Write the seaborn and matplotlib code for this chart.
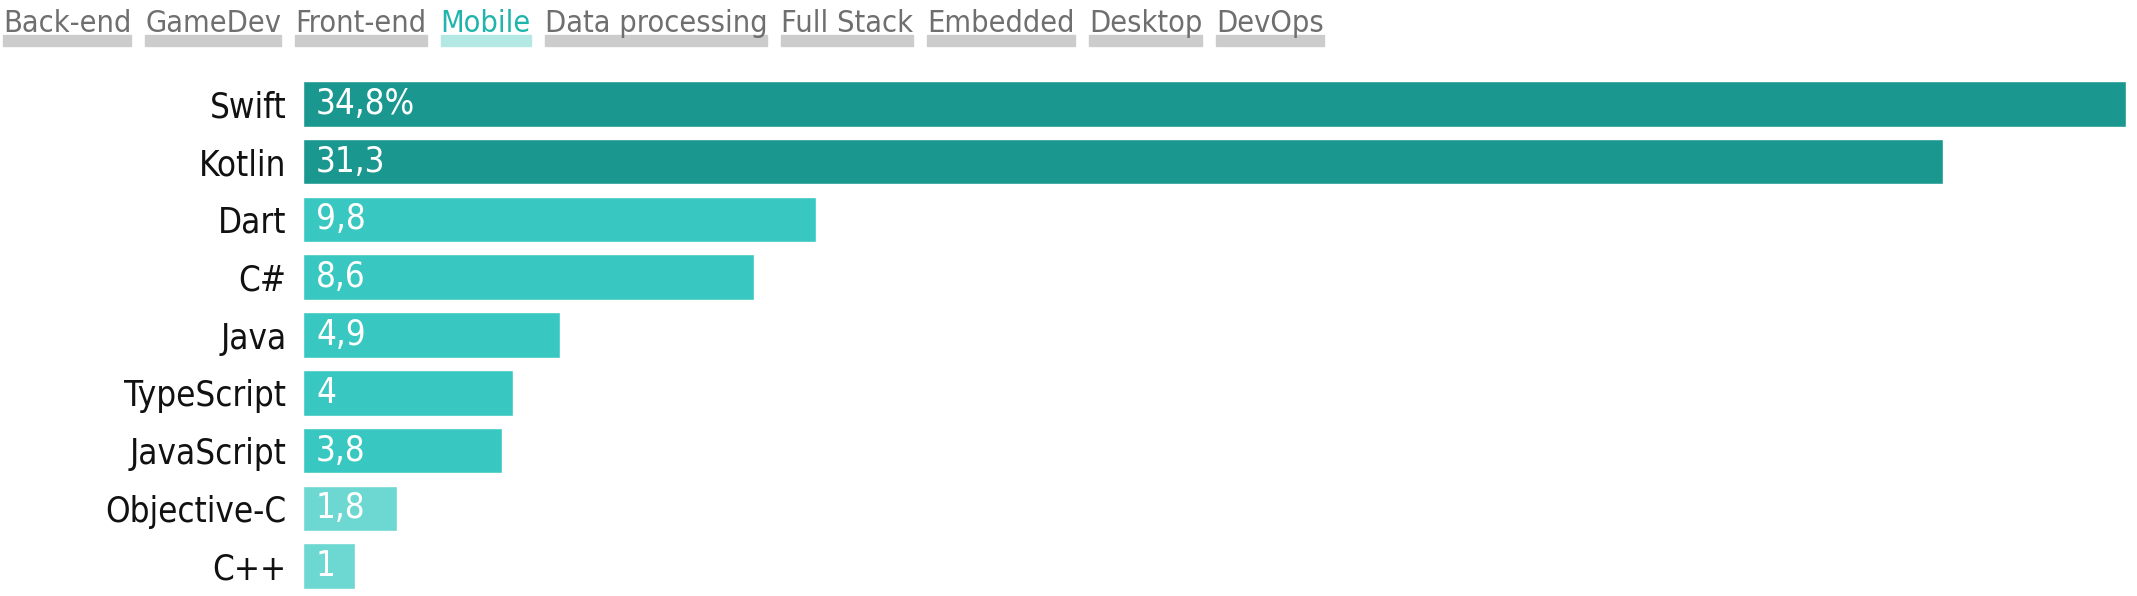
import numpy as np
import pandas as pd
import seaborn as sns
import matplotlib.pyplot as plt
from matplotlib.patches import Rectangle

# data
languages = ['Swift', 'Kotlin', 'Dart', 'C#', 'Java', 'TypeScript', 'JavaScript', 'Objective-C', 'C++']
shares = [34.8, 31.3, 9.8, 8.6, 4.9, 4.0, 3.8, 1.8, 1.0]
value_labels = ['34,8%', '31,3', '9,8', '8,6', '4,9', '4', '3,8', '1,8', '1']
tiers = ['top', 'top', 'mid', 'mid', 'mid', 'mid', 'mid', 'low', 'low']
tabs = ['Back-end', 'GameDev', 'Front-end', 'Mobile', 'Data processing', 'Full Stack', 'Embedded', 'Desktop', 'DevOps']
active_tab = 'Mobile'

tier_colors = {'top': '#1a9890', 'mid': '#39c8c1', 'low': '#6dd7d1'}

sns.set_theme(style='white')
plt.rcParams['font.family'] = ['DejaVu Sans']
plt.rcParams['font.stretch'] = 'condensed'

df = pd.DataFrame({'lang': languages, 'share': shares, 'tier': tiers})

W, H = 2137, 596
fig = plt.figure(figsize=(W / 100, H / 100), dpi=100)
ax = fig.add_axes([303 / W, 1 / H, (2126 - 303) / W, 520 / H])

sns.barplot(data=df, x='share', y='lang', hue='tier', palette=tier_colors,
            order=languages, dodge=False, width=0.79, legend=False, ax=ax,
            saturation=1)

ax.set_xlim(0, max(shares))
ax.set_ylim(len(languages) - 0.5, -0.5)
ax.set_xlabel('')
ax.set_ylabel('')
ax.set_xticks([])
ax.tick_params(axis='y', length=0, pad=12, labelsize=25, labelcolor='#111111')
sns.despine(ax=ax, left=True, bottom=True)

# value labels inside bars
for i, lab in enumerate(value_labels):
    ax.annotate(lab, xy=(0, i), xytext=(13, 0), textcoords='offset pixels',
                va='center', ha='left', color='white', fontsize=25)

# tab row on top, underline sized from each rendered label
fig.canvas.draw()
renderer = fig.canvas.get_renderer()
gap = 14
x0 = 3
for name in tabs:
    active = name == active_tab
    t = fig.text(x0 / W, 1 - 32 / H, name, ha='left', va='baseline', fontsize=22,
                 color='#1fb5ab' if active else '#6f6f6f')
    w = t.get_window_extent(renderer=renderer).width
    fig.patches.append(Rectangle((x0 / W, 1 - 45.5 / H), w / W, 10.5 / H,
                                 transform=fig.transFigure,
                                 color='#b3e8e4' if active else '#cccccc', zorder=0))
    x0 += w + gap

fig.savefig('out.png', dpi=100)
